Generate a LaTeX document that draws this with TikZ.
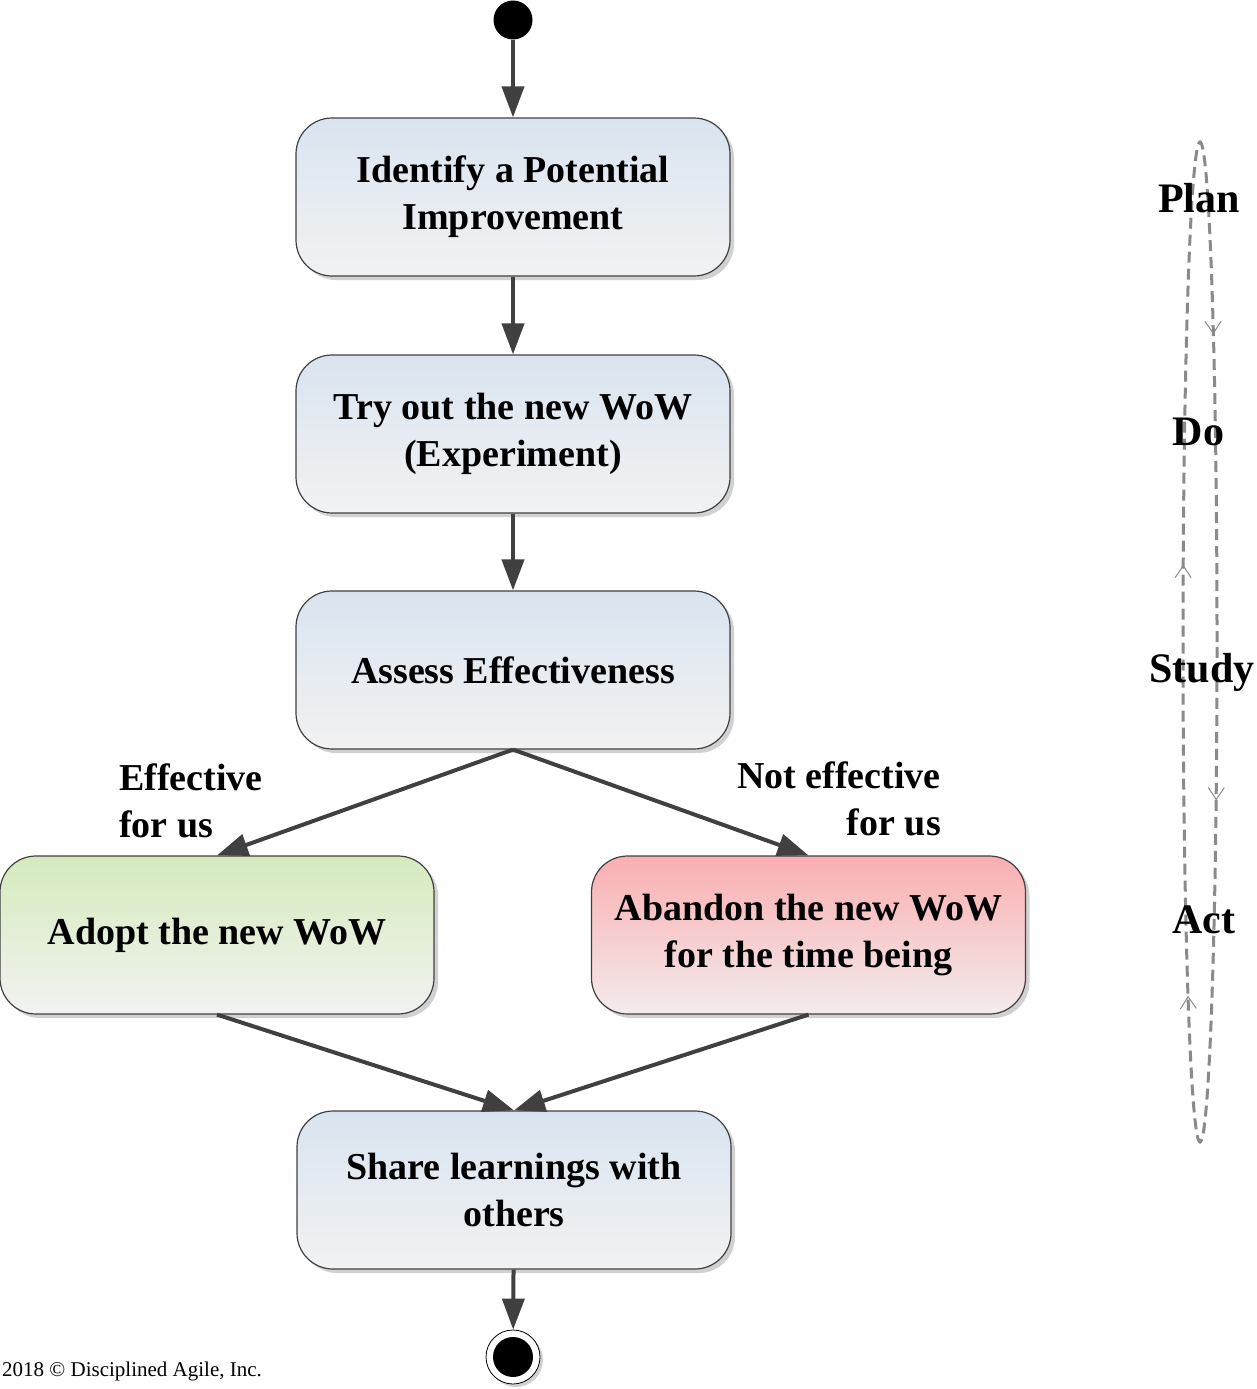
\documentclass[tikz,border=0pt]{standalone}
\usepackage{fontspec}
\setmainfont{Liberation Serif}
\usetikzlibrary{arrows.meta,shadows,decorations.markings}
\definecolor{arr}{HTML}{404040}
\definecolor{boxblue}{HTML}{D9E4F0}
\definecolor{boxgray}{HTML}{F2F2F2}
\definecolor{boxgreen}{HTML}{D5EBBC}
\definecolor{boxred}{HTML}{FAAEB1}
\definecolor{boxredlow}{HTML}{F3ECEC}
\definecolor{loopgray}{HTML}{8A8A8A}
\begin{document}
\begin{tikzpicture}[x=1pt,y=-1pt,
  box/.style={draw=arr, line width=1.2pt, rounded corners=36pt,
    minimum width=434pt, minimum height=158pt, inner sep=0pt, align=center,
    font=\fontsize{38}{47}\selectfont\bfseries,
    drop shadow={shadow xshift=4pt, shadow yshift=-4pt, fill=black, opacity=0.18}},
  bluebox/.style={box, top color=boxblue, bottom color=boxgray},
  greenbox/.style={box, top color=boxgreen, bottom color=boxgray},
  redbox/.style={box, top color=boxred, bottom color=boxredlow},
  flow/.style={draw=arr, line width=4pt, -{Triangle[length=31pt,width=22pt]}},
  lbl/.style={inner sep=0pt, font=\fontsize{38}{47}\selectfont\bfseries},
  phase/.style={inner sep=0pt, font=\fontsize{42}{50}\selectfont\bfseries},
  loopmark/.style={decoration={markings,
      mark=at position 0.1535 with {\arrowreversed[loopgray,line width=1pt]{Straight Barb[length=12pt,width=16pt]}},
      mark=at position 0.4615 with {\arrowreversed[loopgray,line width=1pt]{Straight Barb[length=12pt,width=16pt]}},
      mark=at position 0.6765 with {\arrowreversed[loopgray,line width=1pt]{Straight Barb[length=12pt,width=16pt]}},
      mark=at position 0.921 with {\arrowreversed[loopgray,line width=1pt]{Straight Barb[length=12pt,width=16pt]}}},
    postaction={decorate}}
]
\useasboundingbox (0,0) rectangle (1257,1389);

% PDSA loop
\draw[loopgray, line width=3pt, dash pattern=on 11pt off 6pt, loopmark]
  (1200,642) ellipse [x radius=17pt, y radius=500pt];
\node[phase, anchor=base] (plan) at (1199,212) {Plan};
\node[phase, anchor=base] (do) at (1198.5,445) {Do};
\node[phase, anchor=base] (study) at (1202,682) {Study};
\node[phase, anchor=base] (act) at (1203.5,933) {Act};

% nodes
\node[circle, fill=black, minimum size=39pt, inner sep=0pt] (start) at (513,20) {};
\node[bluebox] (identify) at (513,197) {Identify a Potential\\Improvement};
\node[bluebox] (try) at (513,434) {Try out the new WoW\\(Experiment)};
\node[bluebox] (assess) at (513,670) {Assess Effectiveness};
\node[greenbox] (adopt) at (217,935) {Adopt the new WoW};
\node[redbox] (abandon) at (808.5,935) {Abandon the new WoW\\for the time being};
\node[bluebox] (share) at (514,1190) {Share learnings with\\others};
\node[circle, draw=black, line width=0.8pt, fill=white, minimum size=54pt, inner sep=0pt,
  drop shadow={shadow xshift=3pt, shadow yshift=-3pt, fill=black, opacity=0.18}] (finish) at (513,1357) {};
\node[circle, fill=black, minimum size=40pt, inner sep=0pt] (finishdot) at (finish.center) {};

% labels
\node[lbl, anchor=west, align=left] (efflbl) at (119,801) {Effective\\for us};
\node[lbl, anchor=east, align=right] (noefflbl) at (941,799) {Not effective\\for us};

% connectors
\draw[flow] (start) -- (identify);
\draw[flow] (identify) -- (try);
\draw[flow] (try) -- (assess);
\draw[flow] (assess.south) -- (adopt.north);
\draw[flow] (assess.south) -- (abandon.north);
\draw[flow] (adopt.south) -- (share.north);
\draw[flow] (abandon.south) -- (share.north);
\draw[flow] (share) -- (finish);

% copyright
\node[inner sep=0pt, anchor=base west, font=\fontsize{21}{25}\selectfont] (copy) at (2,1376) {2018 © Disciplined Agile, Inc.};
\end{tikzpicture}
\end{document}
